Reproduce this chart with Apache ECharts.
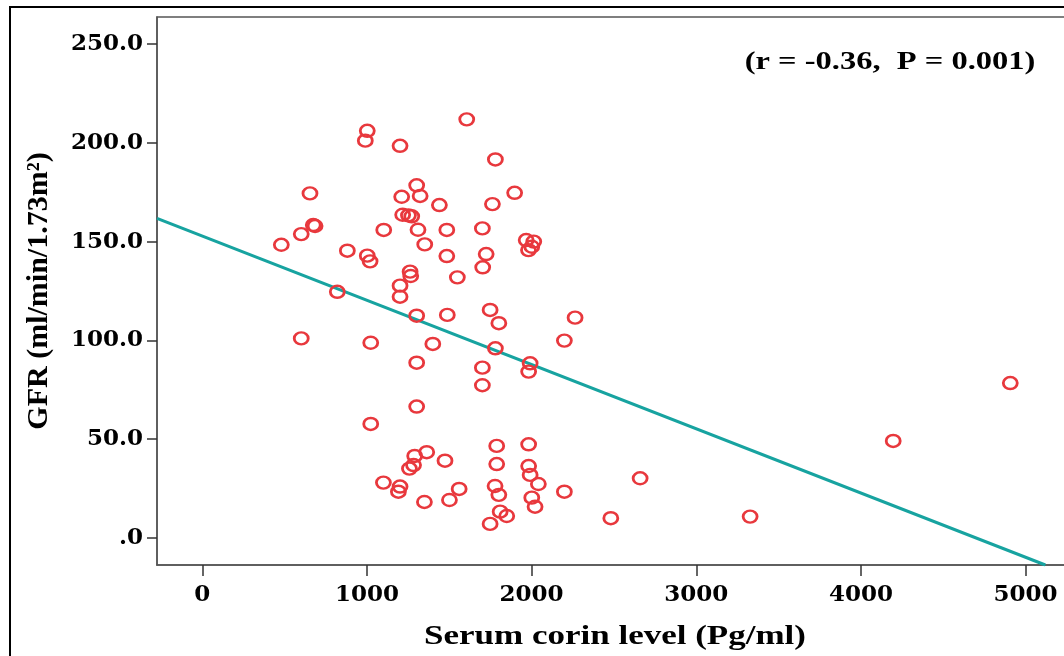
<!DOCTYPE html>
<html>
<head>
<meta charset="utf-8">
<script src="https://cdn.jsdelivr.net/npm/echarts@6/dist/echarts.min.js"></script>
<style>
  html, body { margin: 0; padding: 0; background: #fff; }
  #chart { width: 1064px; height: 656px; }
</style>
</head>
<body>
<div id="chart"></div>
<script>
// serum corin (Pg/ml) and GFR (ml/min/1.73m2)
const corin = [1606, 1002, 990, 1201, 1780, 654, 1302, 1211, 1323, 1897,
  1440, 1762, 1217, 1252, 1272, 674, 685, 601, 480, 1102,
  1310, 1485, 1701, 1351, 881, 1002, 1019, 1485, 1724, 1703,
  1262, 1266, 1549, 1201, 1201, 820, 1302, 1488, 1748, 1967,
  2013, 1981, 2001, 2264, 1801, 601, 1023, 1400, 1780, 1302,
  1701, 1701, 1302, 1023, 1788, 1363, 1290, 1474, 1788, 1283,
  1258, 1100, 1201, 1191, 1560, 1778, 1801, 1349, 1501, 1809,
  1849, 1748, 2199, 1991, 1982, 1982, 1982, 1991, 2041, 2199,
  2659, 2001, 2021, 2481, 3327, 4196, 4907];
const gfr = [211.9, 206.1, 201.1, 198.5, 191.6, 174.4, 178.5, 172.7, 173.1, 174.7,
  168.5, 169.0, 163.6, 163.3, 162.8, 158.4, 157.9, 153.8, 148.4, 155.9,
  156.0, 155.9, 156.7, 148.6, 145.4, 142.9, 140.0, 142.7, 143.7, 137.0,
  134.8, 132.6, 131.9, 127.7, 122.1, 124.6, 112.5, 112.9, 115.4, 150.8,
  150.0, 145.7, 147.4, 111.5, 108.7, 101.0, 98.8, 98.2, 96.0, 88.7,
  86.2, 77.3, 66.5, 57.7, 46.6, 43.4, 41.5, 39.1, 37.4, 36.9,
  35.1, 28.0, 26.0, 23.4, 24.8, 26.3, 21.8, 18.2, 19.2, 13.3,
  11.1, 7.1, 99.9, 88.4, 84.2, 47.4, 36.4, 31.9, 27.3, 23.4,
  30.2, 20.4, 15.8, 10.0, 10.8, 49.1, 78.4];

// fit line end points
const fitX = [-275, 5120];
const fitY = [161.8, -13.7];

const xTicks = [0, 1000, 2000, 3000, 4000, 5000];
const yTicks = [0, 50, 100, 150, 200, 250];
const yTickLabels = ['.0', '50.0', '100.0', '150.0', '200.0', '250.0'];

const chart = echarts.init(document.getElementById('chart'));

const option = {
  animation: false,
  backgroundColor: '#fff',
  grid: {
    left: 157,
    top: 17,
    right: -11,
    bottom: 91,
    outerBoundsMode: 'none',
    containLabel: false,
    show: true,
    borderColor: '#555',
    borderWidth: 1.5
  },
  xAxis: {
    type: 'value',
    min: -275,
    max: 5300,
    splitLine: { show: false },
    axisLine: { show: true, onZero: false, lineStyle: { color: '#555', width: 1.5 } },
    axisTick: { show: true, length: 11, customValues: xTicks, lineStyle: { color: '#333', width: 1.5 } },
    axisLabel: {
      customValues: xTicks,
      margin: 19,
      color: '#000',
      fontFamily: 'DejaVu Serif',
      fontWeight: 'bold',
      fontSize: 23,
      formatter: v => String(v)
    }
  },
  yAxis: {
    type: 'value',
    min: -13.7,
    max: 263.7,
    splitLine: { show: false },
    axisLine: { show: true, onZero: false, lineStyle: { color: '#555', width: 1.5 } },
    axisTick: { show: true, length: 10, customValues: yTicks, lineStyle: { color: '#333', width: 1.5 } },
    axisLabel: {
      customValues: yTicks,
      margin: 14,
      color: '#000',
      fontFamily: 'DejaVu Serif',
      fontWeight: 'bold',
      fontSize: 23,
      formatter: v => yTickLabels[yTicks.indexOf(v)]
    },
    name: 'GFR (ml/min/1.73m²)',
    nameLocation: 'middle',
    nameGap: 103,
    nameTextStyle: {
      color: '#000',
      fontFamily: 'Liberation Serif',
      fontWeight: 'bold',
      fontSize: 30
    }
  },
  graphic: [
    {
      type: 'rect',
      z: -1,
      shape: { x: 10, y: 7, width: 1100, height: 700 },
      style: { fill: 'none', stroke: '#000', lineWidth: 2 }
    },
    {
      type: 'text',
      x: 615,
      y: 637,
      scaleX: 1.25,
      style: {
        text: 'Serum corin level (Pg/ml)',
        x: 0, y: 0,
        align: 'center',
        verticalAlign: 'middle',
        fill: '#000',
        font: 'bold 28px "Liberation Serif"'
      }
    },
    {
      type: 'text',
      x: 890,
      y: 62,
      scaleX: 1.25,
      style: {
        text: '(r = -0.36,  P = 0.001)',
        x: 0, y: 0,
        align: 'center',
        verticalAlign: 'middle',
        fill: '#000',
        font: 'bold 26px "Liberation Serif"'
      }
    }
  ],
  series: [
    {
      type: 'line',
      data: fitX.map((x, i) => [x, fitY[i]]),
      symbol: 'none',
      lineStyle: { color: '#17a3a0', width: 3 },
      clip: true,
      z: 2
    },
    {
      type: 'scatter',
      data: corin.map((x, i) => [x, gfr[i]]),
      symbol: 'circle',
      symbolSize: [14, 12],
      itemStyle: { color: 'rgba(0,0,0,0)', borderColor: '#e8383d', borderWidth: 2.6, opacity: 1 },
      z: 3
    }
  ]
};

chart.setOption(option);
</script>
</body>
</html>
